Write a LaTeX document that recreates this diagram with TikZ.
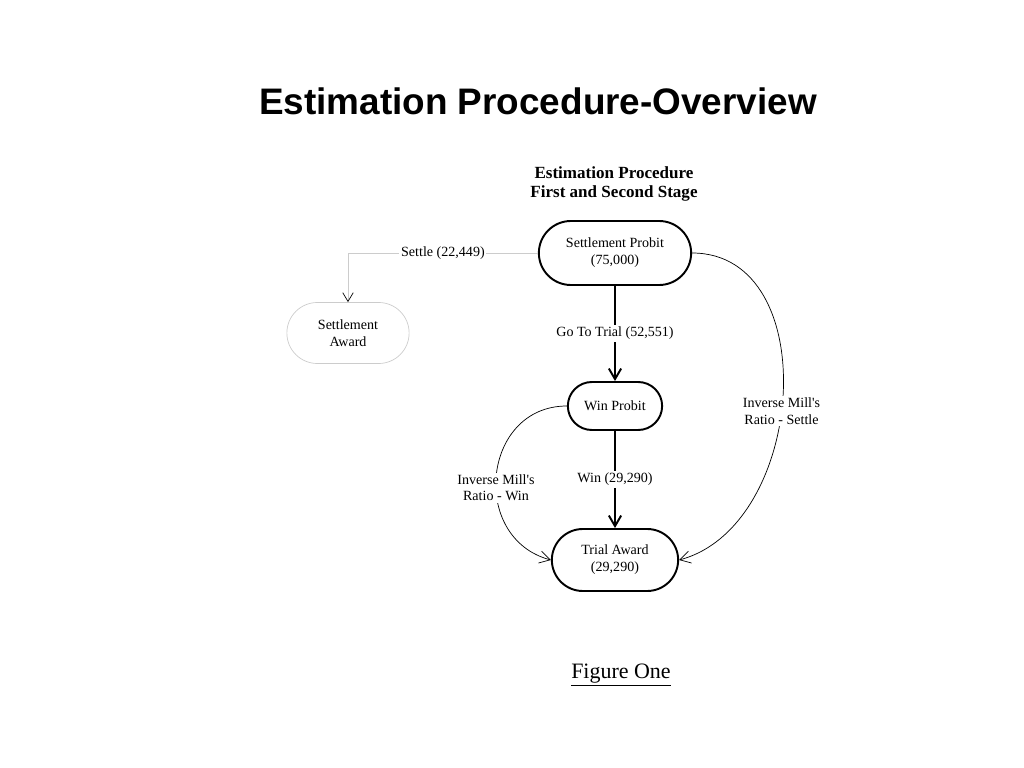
\documentclass[tikz,border=0pt]{standalone}
\usepackage{fontspec}
\setmainfont{Liberation Serif}
\newfontfamily\titlefont{Liberation Sans}
\usetikzlibrary{positioning,shapes.misc,arrows.meta}

\begin{document}
\begin{tikzpicture}[>={Straight Barb[length=6pt,width=7pt]},on grid,
    stage/.style={rounded rectangle,draw,line width=1.1pt,align=center,font=\fontsize{8}{9.6}\selectfont},
    lbl/.style={fill=white,inner sep=1pt,align=center,font=\fontsize{8}{9.6}\selectfont}]
    \useasboundingbox (0,0) rectangle (20.48,-15.36);
    \node[font=\titlefont\bfseries\fontsize{21}{25}\selectfont] (title) at (10.76,-2.02) {Estimation Procedure-Overview};
    \node[align=center,font=\bfseries\fontsize{9.7}{10.8}\selectfont] (stages) at (12.28,-3.68) {Estimation Procedure\\First and Second Stage};
    \node[stage,minimum width=3.28cm,minimum height=1.28cm] (sprobit) at (12.3,-5.06) {Settlement Probit\\(75,000)};
    \node[stage,minimum width=2.68cm,minimum height=1.22cm,draw=gray!40,line width=0.4pt] (saward) [below left = 1.6cm and 5.34cm of sprobit] {Settlement\\Award};
    \node[stage,minimum width=2.12cm,minimum height=0.96cm] (wprobit) [below = 3.06cm of sprobit] {Win Probit};
    \node[stage,minimum width=2.76cm,minimum height=1.24cm] (taward) [below = 3.08cm of wprobit] {Trial Award\\(29,290)};
    \node[font=\fontsize{12.5}{15}\selectfont] (fig) at (12.42,-13.5) {\underline{Figure One}};
    \path[->]
    (sprobit)
    edge [line width=1.1pt] node [lbl] {Go To Trial (52,551)} (wprobit)
    (wprobit)
    edge [line width=1.1pt] node [lbl] {Win (29,290)} (taward)
    (wprobit.west)
    edge [out=180,in=165,looseness=1.4] node [lbl,pos=0.56] {Inverse Mill\textquotesingle s\\Ratio - Win} (taward.west)
    (sprobit.east)
    edge [out=0,in=15,looseness=1.1] node [lbl,pos=0.54] {Inverse Mill\textquotesingle s\\Ratio - Settle} (taward.east)
    ;
    \draw[draw=gray!40,-{Straight Barb[length=5pt,width=6pt,color=black]}] (sprobit.west) -| node [lbl,pos=0.25] {Settle (22,449)} (saward.north);
\end{tikzpicture}
\end{document}
